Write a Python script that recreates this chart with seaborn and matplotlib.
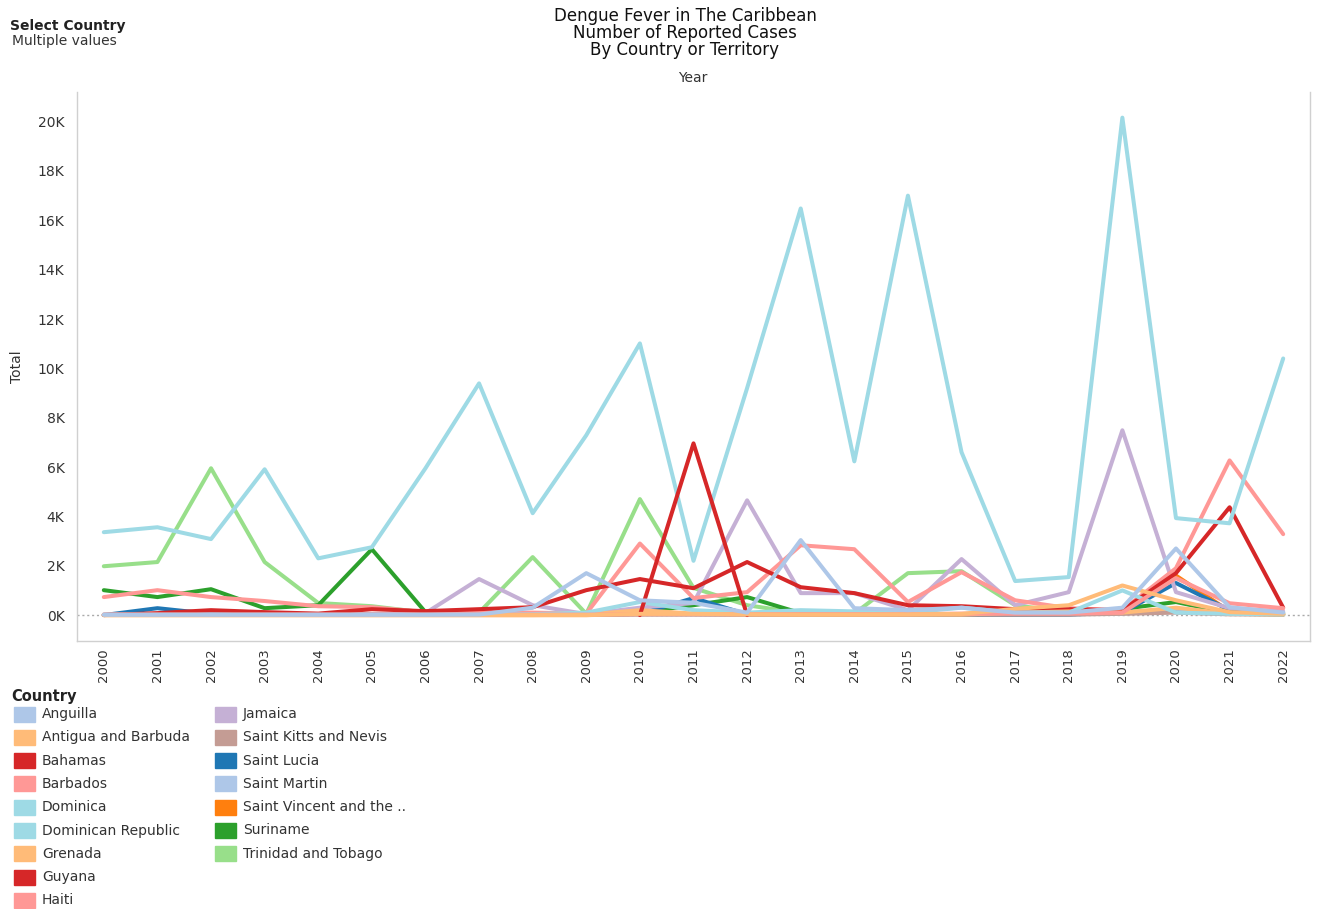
import pandas as pd
import matplotlib
matplotlib.use("Agg")
import matplotlib.pyplot as plt
from matplotlib.patches import Rectangle
from matplotlib.ticker import FuncFormatter, FixedLocator
import seaborn as sns

# data
years = list(range(2000, 2023))

countries = ["Anguilla", "Antigua and Barbuda", "Bahamas", "Barbados", "Dominica",
             "Dominican Republic", "Grenada", "Guyana", "Haiti", "Jamaica",
             "Saint Kitts and Nevis", "Saint Lucia", "Saint Martin",
             "Saint Vincent and the ..", "Suriname", "Trinidad and Tobago"]

colors = ["#aec7e8", "#ffbb78", "#d62728", "#ff9896", "#9edae5",
          "#9edae5", "#ffbb78", "#d62728", "#ff9896", "#c5b0d5",
          "#c49c94", "#1f77b4", "#aec7e8", "#ff7f0e", "#2ca02c", "#98df8a"]

anguilla = [10, 10, 10, 10, 10, 10, 10, 20, 300, 1700, 600, 500, 100, 3040, 280, 200, 300, 100, 100, 300, 2700, 320, 100]
antigua = [0, 0, 0, 0, 0, 0, 0, 0, 0, 0, 50, 50, 30, 20, 20, 30, 50, 250, 400, 1200, 600, 120, 50]
bahamas = [None] * 10 + [0, 6960, 0] + [None] * 10
barbados = [20, 20, 20, 20, 20, 20, 20, 20, 20, 20, 40, 40, 40, 40, 40, 40, 60, 60, 60, 100, 1500, 480, 280]
dominica = [20, 20, 20, 20, 20, 20, 20, 20, 40, 100, 530, 200, 100, 200, 150, 100, 300, 100, 100, 1000, 100, 50, 30]
dominican_republic = [3360, 3560, 3080, 5910, 2300, 2750, 5950, 9390, 4130, 7290, 11010, 2200, 9200,
                      16480, 6230, 17000, 6600, 1380, 1540, 20160, 3930, 3720, 10400]
grenada = [0, 0, 0, 0, 0, 0, 0, 0, 0, 20, 200, 60, 30, 20, 20, 20, 20, 100, 150, 100, 300, 60, 20]
guyana = [0, 80, 200, 120, 60, 240, 160, 240, 320, 1010, 1460, 1090, 2150, 1130, 890, 400, 360,
          240, 240, 200, 1700, 4370, 300]
haiti = [730, 1010, 730, 570, 360, 320, 120, 100, 100, 60, 2900, 690, 930, 2830, 2670, 530, 1740,
         600, 280, 200, 1900, 6270, 3280]
jamaica = [20, 20, 20, 20, 20, 20, 80, 1460, 400, 40, 300, 490, 4650, 890, 890, 200, 2270, 400,
           930, 7490, 930, 280, 150]
saint_kitts = [10, 10, 10, 10, 10, 10, 10, 10, 10, 10, 30, 30, 20, 20, 20, 20, 20, 20, 20, 50, 100, 30, 20]
saint_lucia = [0, 280, 50, 20, 20, 20, 20, 20, 20, 20, 50, 690, 30, 20, 20, 20, 20, 20, 20, 100, 1300, 200, 100]
saint_martin = [10, 10, 10, 10, 10, 10, 10, 10, 10, 20, 30, 30, 20, 20, 20, 20, 30, 30, 30, 60, 200, 60, 30]
saint_vincent = [0, 0, 0, 0, 0, 0, 0, 0, 0, 0, 30, 30, 20, 20, 20, 20, 20, 20, 30, 150, 1600, 150, 50]
suriname = [1010, 730, 1050, 280, 400, 2670, 120, 80, 60, 40, 100, 400, 730, 80, 60, 50, 30, 50,
            100, 250, 530, 80, 30]
trinidad = [1980, 2150, 5950, 2150, 490, 360, 100, 100, 2350, 50, 4700, 1100, 400, 80, 60, 1700,
            1780, 400, 100, 150, 150, 50, 30]

series = [anguilla, antigua, bahamas, barbados, dominica, dominican_republic, grenada, guyana,
          haiti, jamaica, saint_kitts, saint_lucia, saint_martin, saint_vincent, suriname, trinidad]

rows = []
for name, vals in zip(countries, series):
    for yr, v in zip(years, vals):
        rows.append({"Year": yr, "Country": name, "Total": v})
df = pd.DataFrame(rows)
palette = dict(zip(countries, colors))

sns.set_style("white")
plt.rcParams["font.family"] = ["DejaVu Sans"]
txt = "#333333"
grey = "#d0d0d0"

W, H = 1318, 909
fig = plt.figure(figsize=(W / 100, H / 100), dpi=100)
ax = fig.add_axes([77 / W, 1 - 641 / H, (1310 - 77) / W, (641 - 92) / H])

ax.axhline(0, color="#aaaaaa", lw=1, ls=(0, (1.5, 2)), zorder=0.5)
sns.lineplot(data=df, x="Year", y="Total", hue="Country", hue_order=countries[::-1],
             palette=palette, linewidth=2.9, legend=False, ax=ax, sort=False)

ax.set_xlim(1999.5, 2022.5)
ax.set_ylim(-1050, 21200)
ax.set_xticks(years)
ax.set_xticklabels([str(y) for y in years], rotation=90, fontsize=9.5, color=txt)
ax.xaxis.set_minor_locator(FixedLocator([y - 0.5 for y in years] + [2022.5]))
ax.tick_params(axis="x", which="major", length=0, pad=5)
ax.tick_params(axis="x", which="minor", length=5, color=grey, width=1)
ax.set_yticks(range(0, 20001, 2000))
ax.yaxis.set_major_formatter(FuncFormatter(lambda v, p: f"{v / 1000:.0f}K"))
ax.tick_params(axis="y", length=5, color=grey, labelsize=10, labelcolor=txt, pad=4)
ax.set_xlabel("")
ax.set_ylabel("Total", fontsize=10, color=txt, labelpad=10)
for s in ["left", "bottom", "right"]:
    ax.spines[s].set_color(grey)
    ax.spines[s].set_linewidth(1)
ax.spines["top"].set_visible(False)

# titles
fig.text(685 / W, 1 - 16 / H, "Dengue Fever in The Caribbean", ha="center", va="center", fontsize=12, color="#111111")
fig.text(685 / W, 1 - 33 / H, "Number of Reported Cases", ha="center", va="center", fontsize=12, color="#111111")
fig.text(685 / W, 1 - 50 / H, "By Country or Territory", ha="center", va="center", fontsize=12, color="#111111")
fig.text(693 / W, 1 - 78 / H, "Year", ha="center", va="center", fontsize=10, color=txt)
fig.text(10 / W, 1 - 26 / H, "Select Country", ha="left", va="center", fontsize=10, weight="bold", color="#222222")
fig.text(12 / W, 1 - 41 / H, "Multiple values", ha="left", va="center", fontsize=10, color=txt)

# legend
fig.text(11 / W, 1 - 696 / H, "Country", ha="left", va="center", fontsize=10.5, weight="bold", color="#222222")
for i, (name, col) in enumerate(zip(countries, colors)):
    c, r = (0, i) if i < 9 else (1, i - 9)
    y = 714 + r * 23.3
    x0 = 14 if c == 0 else 215
    fig.patches.append(Rectangle((x0 / W, 1 - (y + 7.5) / H), 21 / W, 15 / H,
                                 transform=fig.transFigure, color=col))
    fig.text((x0 + 28) / W, 1 - y / H, name, ha="left", va="center", fontsize=10, color=txt)

fig.savefig("out.png", dpi=100)
